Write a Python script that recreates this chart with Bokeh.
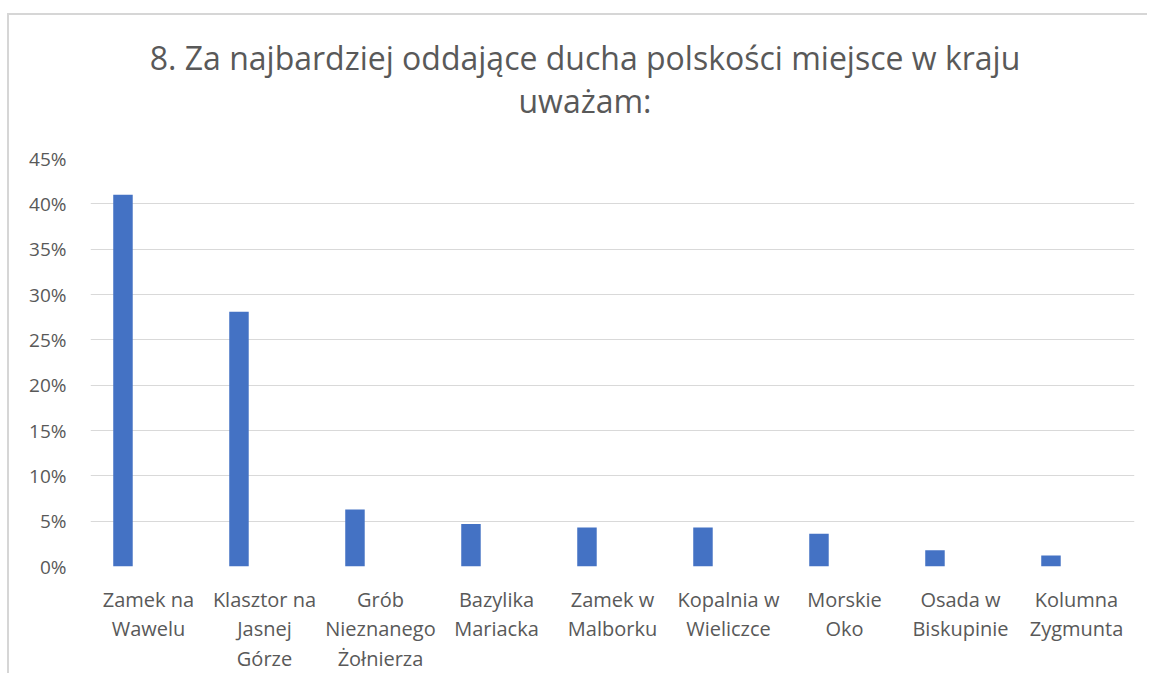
from bokeh.plotting import figure
from bokeh.models import ColumnDataSource, NumeralTickFormatter, Label, FactorRange, Range1d, SingleIntervalTicker
from bokeh.transform import dodge
from bokeh.embed import file_html
from bokeh.resources import INLINE

categories = ["Zamek na\nWawelu", "Klasztor na\nJasnej\nGórze", "Grób\nNieznanego\nŻołnierza",
              "Bazylika\nMariacka", "Zamek w\nMalborku", "Kopalnia w\nWieliczce",
              "Morskie\nOko", "Osada w\nBiskupinie", "Kolumna\nZygmunta"]
values = [0.41, 0.281, 0.063, 0.047, 0.043, 0.043, 0.036, 0.018, 0.012]
title_lines = ["8. Za najbardziej oddające ducha polskości miejsce w kraju", "uważam:"]

FONT = "Open Sans"
GREY = "#595959"

src = ColumnDataSource(dict(cat=categories, val=values))

p = figure(x_range=FactorRange(*categories, range_padding=0), y_range=Range1d(0, 0.45),
           width=1140, height=660, output_backend="svg", toolbar_location=None,
           min_border_left=81, min_border_right=15, min_border_top=143, min_border_bottom=109)
p.styles = {"margin-left": "7px", "margin-top": "13px",
            "border-top": "2px solid #d6d6d6", "border-left": "2px solid #d6d6d6"}
p.outline_line_color = None

p.vbar(x=dodge("cat", -0.22, range=p.x_range), top="val", width=0.168, source=src,
       color="#4472C4", line_color=None)

p.yaxis.ticker = SingleIntervalTicker(interval=0.05)
p.yaxis.formatter = NumeralTickFormatter(format="0%")
p.ygrid.grid_line_color = "#d9d9d9"
p.ygrid.grid_line_width = 1
p.xgrid.grid_line_color = None

for ax in (p.xaxis[0], p.yaxis[0]):
    ax.axis_line_color = None
    ax.major_tick_line_color = None
    ax.minor_tick_line_color = None
    ax.major_label_text_font = FONT
    ax.major_label_text_color = GREY

p.yaxis.major_label_text_font_size = "19px"
p.yaxis.major_label_standoff = 18
p.xaxis.major_label_text_font_size = "20px"
p.xaxis.major_label_standoff = 13
p.xaxis.major_label_text_line_height = 1.1

p.add_layout(Label(x=494.5, y=58, x_units="screen", y_units="screen", text=title_lines[1],
                   text_align="center", text_baseline="middle",
                   text_font=FONT, text_font_size="32px", text_color=GREY), "above")
p.add_layout(Label(x=494.5, y=58.5, x_units="screen", y_units="screen", text=title_lines[0],
                   text_align="center", text_baseline="middle",
                   text_font=FONT, text_font_size="32px", text_color=GREY), "above")

open("out.html", "w").write(file_html(p, INLINE))
